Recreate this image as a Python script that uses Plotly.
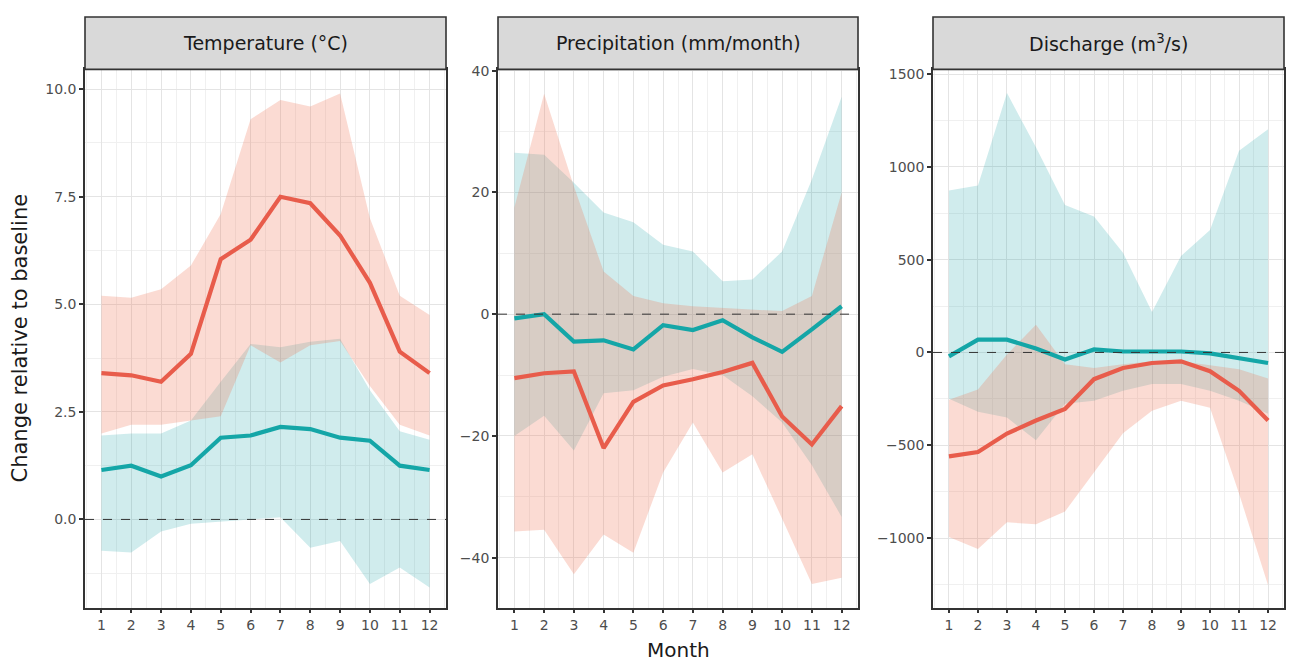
import plotly.graph_objects as go

months = list(range(1, 13))
month_labels = [str(m) for m in months]

# Temperature (°C)
temp_high_mean = [3.4, 3.35, 3.2, 3.85, 6.05, 6.5, 7.5, 7.35, 6.6, 5.5, 3.9, 3.4]
temp_high_upper = [5.2, 5.15, 5.35, 5.9, 7.1, 9.3, 9.75, 9.6, 9.9, 7.0, 5.2, 4.75]
temp_high_lower = [2.0, 2.2, 2.2, 2.3, 2.4, 4.05, 3.65, 4.05, 4.15, 3.1, 2.2, 1.95]
temp_low_mean = [1.15, 1.25, 1.0, 1.26, 1.9, 1.95, 2.15, 2.1, 1.9, 1.83, 1.25, 1.15]
temp_low_upper = [1.95, 2.0, 2.0, 2.3, 3.2, 4.08, 4.0, 4.13, 4.2, 3.0, 2.05, 1.85]
temp_low_lower = [-0.73, -0.77, -0.28, -0.1, -0.05, 0.0, 0.05, -0.66, -0.5, -1.5, -1.12, -1.58]

# Precipitation (mm/month)
prec_high_mean = [-10.5, -9.7, -9.4, -22.0, -14.4, -11.7, -10.7, -9.5, -8.0, -16.8, -21.4, -15.1]
prec_high_upper = [17.5, 36.2, 21.0, 7.0, 3.0, 1.8, 1.3, 1.0, 0.8, 0.5, 3.0, 20.0]
prec_high_lower = [-35.7, -35.4, -42.7, -36.2, -39.2, -26.0, -17.8, -26.0, -23.0, -33.6, -44.3, -43.3]
prec_low_mean = [-0.7, 0.0, -4.5, -4.3, -5.8, -1.8, -2.6, -1.0, -3.8, -6.2, -2.5, 1.3]
prec_low_upper = [26.5, 26.2, 21.6, 16.7, 15.1, 11.4, 10.3, 5.4, 5.7, 10.3, 22.1, 35.7]
prec_low_lower = [-20.0, -16.7, -22.4, -13.0, -12.5, -10.3, -9.0, -10.0, -13.5, -17.8, -24.8, -33.3]

# Discharge (m3/s)
dis_high_mean = [-560, -537, -437, -367, -305, -144, -84, -57, -48, -101, -207, -367]
dis_high_upper = [-255, -200, -11, 149, -64, -84, -64, -48, -48, -70, -90, -140]
dis_high_lower = [-995, -1059, -915, -926, -857, -649, -436, -314, -261, -298, -760, -1255]
dis_low_mean = [-21, 69, 69, 21, -38, 16, 5, 5, 5, -5, -30, -57]
dis_low_upper = [872, 900, 1398, 1105, 795, 733, 537, 218, 520, 660, 1087, 1202]
dis_low_lower = [-250, -320, -351, -473, -277, -261, -207, -170, -170, -207, -261, -330]

panel_titles = ["Temperature (°C)", "Precipitation (mm/month)", "Discharge (m<sup>3</sup>/s)"]
y_ticks = [
    [0.0, 2.5, 5.0, 7.5, 10.0],
    [-40, -20, 0, 20, 40],
    [-1000, -500, 0, 500, 1000, 1500],
]
y_tick_text = [
    ["0.0", "2.5", "5.0", "7.5", "10.0"],
    ["−40", "−20", "0", "20", "40"],
    ["−1000", "−500", "0", "500", "1000", "1500"],
]
y_ranges = [[-2.05, 10.46], [-48.2, 40.2], [-1375, 1525]]
y_minor = [1.25, 10, 250]

panels = [
    (temp_high_mean, temp_high_upper, temp_high_lower, temp_low_mean, temp_low_upper, temp_low_lower),
    (prec_high_mean, prec_high_upper, prec_high_lower, prec_low_mean, prec_low_upper, prec_low_lower),
    (dis_high_mean, dis_high_upper, dis_high_lower, dis_low_mean, dis_low_upper, dis_low_lower),
]

# page body has an 8px margin: lay out in reference pixels shifted by 8
OFF = 8
W, H = 1294 - 2 * OFF, 666 - OFF


def px(x):
    return (x - OFF) / W


def py(y):
    return 1 - (y - OFF) / H


x_doms = [[px(85), px(446)], [px(498), px(858)], [px(933), px(1284)]]
y_dom = [py(607), py(63)]
strip_top = py(10)

RED_LINE = "#E85C4B"
TEAL_LINE = "#14A6A7"
RED_FILL = "rgba(240,110,80,0.25)"
TEAL_FILL = "rgba(20,160,165,0.20)"
FONT = "DejaVu Sans, Verdana, sans-serif"

fig = go.Figure()
layout = dict(
    width=W, height=H,
    margin=dict(l=0, r=0, t=0, b=0),
    paper_bgcolor="white", plot_bgcolor="white",
    showlegend=False,
    font=dict(family=FONT, color="#4D4D4D"),
)
shapes = []
annotations = []

for i, (hm, hu, hl, lm, lu, ll) in enumerate(panels):
    n = "" if i == 0 else str(i + 1)
    xa, ya = "x" + n, "y" + n
    fig.add_trace(go.Scatter(x=months + months[::-1], y=lu + ll[::-1], fill="toself",
                             fillcolor=TEAL_FILL, line=dict(width=0), mode="lines",
                             hoverinfo="skip", xaxis=xa, yaxis=ya))
    fig.add_trace(go.Scatter(x=months + months[::-1], y=hu + hl[::-1], fill="toself",
                             fillcolor=RED_FILL, line=dict(width=0), mode="lines",
                             hoverinfo="skip", xaxis=xa, yaxis=ya))
    fig.add_trace(go.Scatter(x=months, y=hm, mode="lines",
                             line=dict(color=RED_LINE, width=4.2), xaxis=xa, yaxis=ya))
    fig.add_trace(go.Scatter(x=months, y=lm, mode="lines",
                             line=dict(color=TEAL_LINE, width=4.2), xaxis=xa, yaxis=ya))

    layout["xaxis" + n] = dict(
        domain=x_doms[i], anchor=ya, range=[0.45, 12.55],
        tickmode="array", tickvals=months, ticktext=month_labels,
        ticks="outside", ticklen=4, tickwidth=1.5, tickcolor="#333333",
        tickfont=dict(size=14, color="#4D4D4D", family=FONT),
        showgrid=True, gridcolor="#E4E4E4", gridwidth=1,
        minor=dict(dtick=0.5, tick0=0.5, showgrid=True, gridcolor="#F0F0F0", gridwidth=0.8),
        showline=True, mirror=True, linecolor="#333333", linewidth=1.6,
        zeroline=False,
    )
    layout["yaxis" + n] = dict(
        domain=y_dom, anchor=xa, range=y_ranges[i],
        tickmode="array", tickvals=y_ticks[i], ticktext=y_tick_text[i],
        ticks="outside", ticklen=4, tickwidth=1.5, tickcolor="#333333",
        tickfont=dict(size=14, color="#4D4D4D", family=FONT),
        showgrid=True, gridcolor="#E4E4E4", gridwidth=1,
        minor=dict(dtick=y_minor[i], showgrid=True, gridcolor="#F0F0F0", gridwidth=0.8),
        showline=True, mirror=True, linecolor="#333333", linewidth=1.6,
        zeroline=False,
    )
    shapes.append(dict(type="line", xref=xa + " domain", yref=ya, x0=0, x1=1, y0=0, y1=0,
                       line=dict(color="#333333", width=1, dash="dash"), layer="above"))
    shapes.append(dict(type="rect", xref="paper", yref="paper",
                       x0=x_doms[i][0], x1=x_doms[i][1], y0=y_dom[1], y1=strip_top,
                       fillcolor="#D9D9D9", line=dict(color="#333333", width=1.6), layer="above"))
    annotations.append(dict(text=panel_titles[i], xref="paper", yref="paper",
                            x=(x_doms[i][0] + x_doms[i][1]) / 2, y=(y_dom[1] + strip_top) / 2,
                            showarrow=False, xanchor="center", yanchor="middle",
                            font=dict(size=19, color="#1A1A1A", family=FONT)))

annotations.append(dict(text="Change relative to baseline", xref="paper", yref="paper",
                        x=px(20), y=(y_dom[0] + y_dom[1]) / 2, textangle=-90,
                        showarrow=False, xanchor="center", yanchor="middle",
                        font=dict(size=21, color="#1A1A1A", family=FONT)))
annotations.append(dict(text="Month", xref="paper", yref="paper",
                        x=(x_doms[1][0] + x_doms[1][1]) / 2, y=py(650),
                        showarrow=False, xanchor="center", yanchor="middle",
                        font=dict(size=20, color="#1A1A1A", family=FONT)))

layout["shapes"] = shapes
layout["annotations"] = annotations
fig.update_layout(**layout)
fig.write_html("out.html")
